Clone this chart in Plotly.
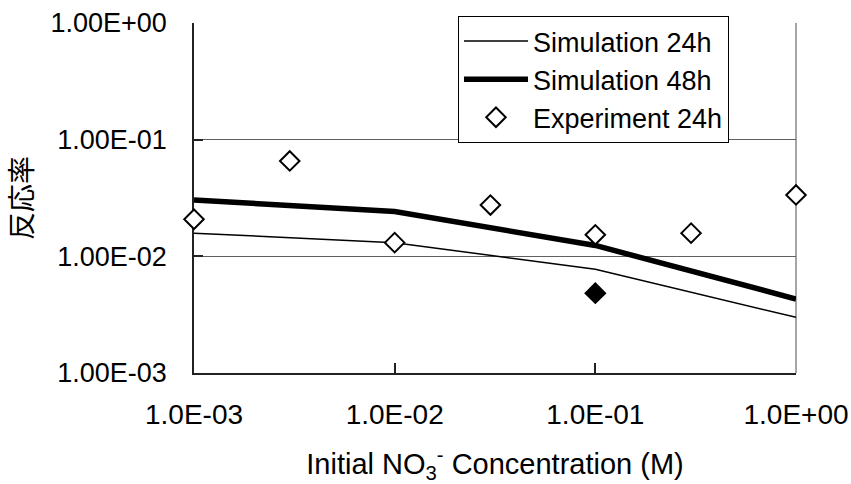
import plotly.graph_objects as go

# ---- data ----
conc_sim = [0.001, 0.01, 0.1, 1.0]
sim_24h = [0.0158, 0.0131, 0.00775, 0.0030]
sim_48h = [0.0304, 0.0242, 0.0124, 0.00431]

conc_exp = [0.001, 0.003, 0.01, 0.03, 0.1, 0.3, 1.0]
exp_24h = [0.0208, 0.0657, 0.0131, 0.0275, 0.0153, 0.0158, 0.0336]

conc_filled = [0.1]
exp_filled = [0.00483]

x_tickvals = [0.001, 0.01, 0.1, 1.0]
x_ticktext = ["1.0E-03", "1.0E-02", "1.0E-01", "1.0E+00"]
y_tickvals = [0.001, 0.01, 0.1, 1.0]
y_ticktext = ["1.00E-03", "1.00E-02", "1.00E-01", "1.00E+00"]

FONT = "Liberation Sans, Arial, Noto Sans CJK JP, sans-serif"

fig = go.Figure()
fig.add_trace(go.Scatter(
    x=conc_sim, y=sim_24h, mode="lines", name="Simulation 24h",
    line=dict(color="black", width=1.5), cliponaxis=False))
fig.add_trace(go.Scatter(
    x=conc_sim, y=sim_48h, mode="lines", name="Simulation 48h",
    line=dict(color="black", width=5.5), cliponaxis=False))
fig.add_trace(go.Scatter(
    x=conc_exp, y=exp_24h, mode="markers", name="Experiment 24h",
    marker=dict(symbol="diamond", size=15, color="white",
                line=dict(color="black", width=2)),
    cliponaxis=False))
fig.add_trace(go.Scatter(
    x=conc_filled, y=exp_filled, mode="markers", showlegend=False,
    marker=dict(symbol="diamond", size=15, color="black",
                line=dict(color="black", width=2)),
    cliponaxis=False))

fig.update_layout(
    width=851, height=484,
    margin=dict(l=194, r=55, t=23, b=111, autoexpand=False),
    paper_bgcolor="white", plot_bgcolor="white",
    font=dict(family=FONT, size=27, color="black"),
    legend=dict(x=0.4385, y=1.02, xanchor="left", yanchor="top",
                bgcolor="white", bordercolor="black", borderwidth=1,
                font=dict(size=27), itemwidth=64, tracegroupgap=0),
    shapes=[dict(type="line", xref="paper", yref="paper", x0=1, x1=1, y0=0, y1=1,
                 line=dict(color="#888888", width=1.5), layer="below")],
)
fig.update_xaxes(
    type="log", range=[-3, 0], automargin=False,
    tickvals=x_tickvals, ticktext=x_ticktext,
    ticks="inside", ticklen=10, tickwidth=1.5, tickcolor="#222222",
    showline=True, linecolor="#222222", linewidth=1.5,
    showgrid=False, zeroline=False, layer="below traces",
    ticklabelstandoff=16, tickfont=dict(size=28),
    title=dict(text="Initial NO<sub>3</sub><sup>-</sup> Concentration (M)",
               font=dict(size=29), standoff=26),
)
fig.update_yaxes(
    type="log", range=[-3, 0], automargin=False,
    tickvals=y_tickvals, ticktext=y_ticktext,
    ticks="inside", ticklen=9, tickwidth=1.5, tickcolor="#222222",
    showline=True, linecolor="#222222", linewidth=1.5,
    showgrid=True, gridcolor="#606060", gridwidth=1.2,
    zeroline=False, layer="below traces",
    ticklabelstandoff=20,
    title=dict(text="反応率", font=dict(size=28, family="Noto Sans CJK JP"), standoff=14),
)

fig.write_html("out.html")
